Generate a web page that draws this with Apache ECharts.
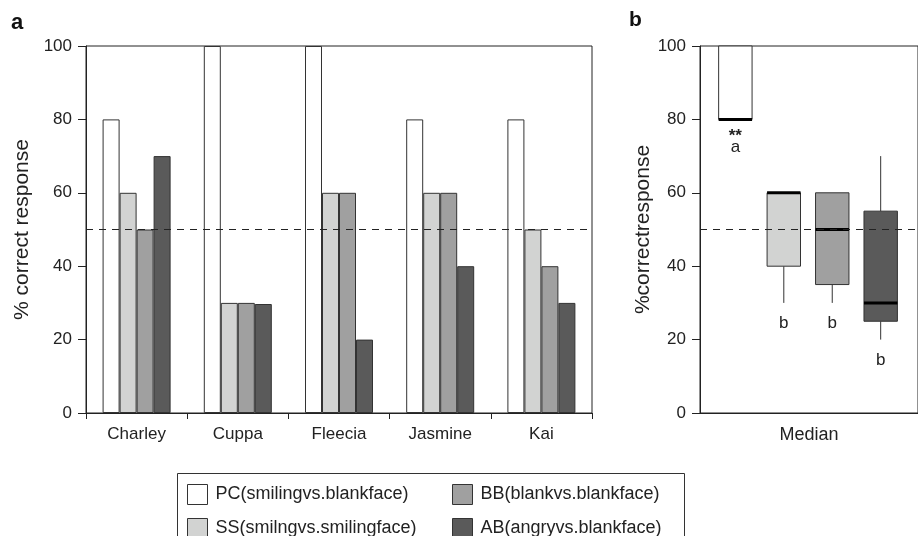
<!DOCTYPE html>
<html>
<head>
<meta charset="utf-8">
<script src="https://cdn.jsdelivr.net/npm/echarts@6/dist/echarts.min.js"></script>
<style>html,body{margin:0;padding:0;background:#fff}#c{width:918px;height:536px}</style>
</head>
<body>
<div id="c"></div>
<script>
// ---- data ----
const dogs = ['Charley', 'Cuppa', 'Fleecia', 'Jasmine', 'Kai'];
const seriesNames = ['PC(smilingvs.blankface)', 'SS(smilngvs.smilingface)', 'BB(blankvs.blankface)', 'AB(angryvs.blankface)'];
const pcVals = [80, 100, 100, 80, 80];
const ssVals = [60, 30, 60, 60, 50];
const bbVals = [50, 30, 60, 60, 40];
const abVals = [70, 29.7, 20, 40, 30];
const yTicks = [0, 20, 40, 60, 80, 100];
const chanceLevel = 50;

const boxCats = ['PC', 'SS', 'BB', 'AB'];
const boxMin = [80, 30, 30, 20];
const boxQ1 = [80, 40, 35, 25];
const boxMed = [80, 60, 50, 30];
const boxQ3 = [100, 60, 60, 55];
const boxMax = [100, 60, 60, 70];
const sigMarks = ['**', '', '', ''];
const groupLetters = ['a', 'b', 'b', 'b'];

const colors = ['#ffffff', '#d2d3d2', '#a0a0a0', '#5a5a5a'];
const valsList = [pcVals, ssVals, bbVals, abVals];

const font = 'Liberation Sans, Arial, Helvetica, sans-serif';
const ink = '#222';

const chart = echarts.init(document.getElementById('c'), null, {renderer: 'canvas'});

function yAxisCfg(gridIndex, name) {
  return {
    type: 'value', gridIndex, min: yTicks[0], max: yTicks[yTicks.length - 1], interval: 20,
    name, nameLocation: 'middle', nameGap: 44,
    nameTextStyle: {fontFamily: font, fontSize: 21, color: ink},
    axisLine: {show: true, lineStyle: {color: ink, width: 1}},
    axisTick: {show: true, length: 8, lineStyle: {color: ink}},
    axisLabel: {fontFamily: font, fontSize: 17, color: ink, margin: 14},
    splitLine: {show: false}
  };
}

const barSeries = valsList.map((v, i) => ({
  name: seriesNames[i], type: 'bar', xAxisIndex: 0, yAxisIndex: 0,
  data: v, barWidth: 17, barGap: '0%',
  itemStyle: {color: colors[i], borderColor: '#333', borderWidth: 1},
  emphasis: {disabled: true},
  markLine: i === 0 ? {
    silent: true, symbol: 'none', label: {show: false},
    lineStyle: {color: ink, type: [7, 6], width: 1},
    data: [{yAxis: chanceLevel}]
  } : undefined
}));

const boxData = boxCats.map((c, i) => [i + 1, boxMin[i], boxQ1[i], boxMed[i], boxQ3[i], boxMax[i]]);

const boxSeries = {
  type: 'custom', xAxisIndex: 1, yAxisIndex: 1,
  data: boxData,
  encode: {x: 0, y: [1, 2, 3, 4, 5]},
  renderItem: function (params, api) {
    const idx = params.dataIndex;
    const x = api.value(0);
    const pMin = api.coord([x, api.value(1)]);
    const pQ1 = api.coord([x, api.value(2)]);
    const pMed = api.coord([x, api.value(3)]);
    const pQ3 = api.coord([x, api.value(4)]);
    const pMax = api.coord([x, api.value(5)]);
    const w = api.size([0.69, 0])[0];
    const cx = pMed[0];
    const children = [
      {type: 'line', shape: {x1: cx, y1: pMin[1], x2: cx, y2: pQ1[1]}, style: {stroke: '#333', lineWidth: 1}},
      {type: 'line', shape: {x1: cx, y1: pQ3[1], x2: cx, y2: pMax[1]}, style: {stroke: '#333', lineWidth: 1}},
      {type: 'rect', shape: {x: cx - w / 2, y: pQ3[1], width: w, height: pQ1[1] - pQ3[1]},
        style: {fill: colors[idx], stroke: '#333', lineWidth: 1}},
      {type: 'line', shape: {x1: cx - w / 2, y1: pMed[1], x2: cx + w / 2, y2: pMed[1]}, style: {stroke: '#000', lineWidth: 3}}
    ];
    if (sigMarks[idx]) {
      children.push({type: 'text', style: {text: sigMarks[idx], x: cx, y: pMin[1] + 8, align: 'center', verticalAlign: 'top', font: 'bold 17px ' + font, fill: ink}});
      children.push({type: 'text', style: {text: groupLetters[idx], x: cx, y: pMin[1] + 19, align: 'center', verticalAlign: 'top', font: '17px ' + font, fill: ink}});
    } else {
      children.push({type: 'text', style: {text: groupLetters[idx], x: cx, y: pMin[1] + 12, align: 'center', verticalAlign: 'top', font: '17px ' + font, fill: ink}});
    }
    return {type: 'group', children};
  },
  markLine: {
    silent: true, symbol: 'none', label: {show: false},
    lineStyle: {color: ink, type: [7, 6], width: 1},
    data: [{yAxis: chanceLevel}]
  }
};

const legendCommon = {
  itemWidth: 20, itemHeight: 20, icon: 'rect', selectedMode: false,
  textStyle: {fontFamily: font, fontSize: 18, color: ink, padding: [0, 0, 0, 3]},
  itemStyle: {borderColor: '#333', borderWidth: 1}
};
const legendSlots = [[182, 479], [182, 513], [447, 479], [447, 513]];

const option = {
  backgroundColor: '#fff',
  animation: false,
  textStyle: {fontFamily: font},
  grid: [
    {left: 86, top: 46, width: 506, height: 367, show: true, borderColor: ink, borderWidth: 1, backgroundColor: 'transparent'},
    {left: 700, top: 46, width: 222, height: 367, show: true, borderColor: ink, borderWidth: 1, backgroundColor: 'transparent'}
  ],
  xAxis: [
    {type: 'category', gridIndex: 0, data: dogs,
      axisLine: {show: true, lineStyle: {color: ink}},
      axisTick: {show: true, length: 6, lineStyle: {color: ink}},
      axisLabel: {fontFamily: font, fontSize: 17, color: ink, margin: 13}},
    {type: 'value', gridIndex: 1, min: 0.27, max: 0.27 + 222 / 49.33,
      name: 'Median', nameLocation: 'middle', nameGap: 13,
      nameTextStyle: {fontFamily: font, fontSize: 18, color: ink},
      axisLine: {show: true, lineStyle: {color: ink}},
      axisTick: {show: false}, axisLabel: {show: false}, splitLine: {show: false}}
  ],
  yAxis: [yAxisCfg(0, '% correct response'), yAxisCfg(1, '%correctresponse')],
  legend: seriesNames.map((n, i) => Object.assign({}, legendCommon, {
    left: legendSlots[i][0], top: legendSlots[i][1], data: [n]
  })),
  graphic: [
    {type: 'text', left: 11, top: 12, style: {text: 'a', font: 'bold 22px ' + font, fill: '#111'}},
    {type: 'text', left: 629, top: 10, style: {text: 'b', font: 'bold 21px ' + font, fill: '#111'}},
    {type: 'rect', left: 175, top: 471, shape: {width: 507, height: 80}, style: {fill: 'none', stroke: '#333', lineWidth: 1}, silent: true}
  ],
  series: barSeries.concat([boxSeries])
};
chart.setOption(option);
</script>
</body>
</html>
